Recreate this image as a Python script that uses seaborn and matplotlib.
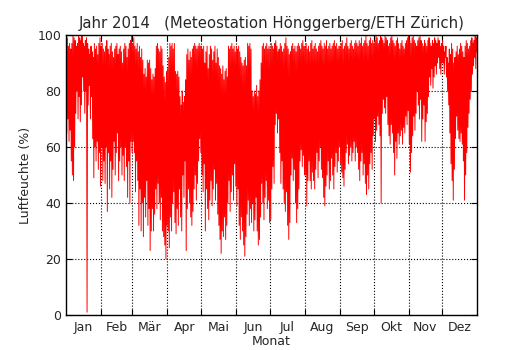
import numpy as np
import pandas as pd
import matplotlib
matplotlib.use("Agg")
import matplotlib.pyplot as plt
import seaborn as sns

# ---- data (daily min / max relative humidity, %) ----
month_labels = ["Jan", "Feb", "Mär", "Apr", "Mai", "Jun",
                "Jul", "Aug", "Sep", "Okt", "Nov", "Dez"]
month_days = [31, 28, 31, 30, 31, 30, 31, 31, 30, 31, 30, 31]

hum_min = [
    # Jan
    65, 70, 62, 66, 55, 50, 48, 60, 72, 80, 70, 78, 69, 75, 85, 80, 72, 80, 1, 75, 82, 70, 78, 63, 49, 60, 55, 62, 52, 58, 46,
    # Feb
    60, 48, 55, 47, 60, 37, 58, 45, 55, 42, 52, 62, 50, 58, 65, 48, 55, 60, 50, 57, 48, 60, 53, 42, 55, 40, 62, 58,
    # Mar
    62, 58, 44, 55, 48, 32, 45, 30, 40, 28, 42, 35, 48, 32, 38, 23, 30, 38, 30, 36, 45, 38, 47, 40, 34, 42, 30, 28, 25, 20, 32,
    # Apr
    30, 24, 35, 30, 40, 44, 33, 29, 38, 32, 45, 35, 30, 50, 42, 55, 23, 38, 45, 40, 35, 32, 37, 45, 50, 41, 47, 55, 63, 58,
    # Mai
    50, 44, 54, 30, 45, 38, 34, 41, 48, 39, 45, 52, 41, 47, 36, 32, 27, 22, 30, 28, 35, 27, 32, 40, 48, 37, 44, 50, 41, 54, 46,
    # Jun
    39, 45, 32, 27, 35, 30, 25, 21, 28, 36, 41, 32, 38, 33, 40, 30, 34, 42, 30, 25, 27, 35, 47, 40, 34, 42, 48, 38, 41, 33,
    # Jul
    34, 45, 53, 47, 68, 72, 65, 70, 58, 47, 55, 45, 40, 37, 44, 32, 27, 33, 50, 56, 48, 52, 40, 33, 38, 45, 55, 59, 53, 57, 50,
    # Aug
    50, 39, 48, 55, 48, 45, 51, 48, 45, 52, 58, 49, 55, 60, 52, 49, 42, 39, 46, 50, 55, 45, 48, 56, 50, 45, 53, 58, 51, 55, 60,
    # Sep
    54, 51, 49, 46, 52, 58, 61, 54, 57, 60, 55, 58, 62, 55, 60, 58, 52, 48, 55, 58, 50, 54, 47, 43, 50, 45, 54, 58, 52, 64,
    # Okt
    70, 62, 66, 71, 68, 64, 40, 72, 77, 74, 72, 78, 68, 64, 61, 68, 65, 58, 50, 62, 56, 65, 61, 64, 66, 61, 67, 65, 71, 68, 73,
    # Nov
    61, 51, 58, 64, 71, 66, 72, 80, 75, 70, 77, 62, 70, 75, 62, 69, 72, 78, 85, 82, 88, 81, 85, 89, 86, 90, 92, 88, 86, 90,
    # Dez
    90, 86, 92, 85, 80, 75, 65, 54, 48, 41, 52, 63, 71, 66, 63, 62, 65, 61, 55, 41, 50, 58, 67, 72, 77, 80, 86, 89, 92, 88, 94,
]

hum_max = [
    # Jan
    98, 99, 96, 97, 95, 97, 100, 99, 98, 96, 97, 100, 99, 98, 100, 97, 96, 98, 99, 97, 95, 93, 96, 94, 92, 97, 95, 96, 93, 97, 99,
    # Feb
    96, 97, 95, 94, 96, 98, 95, 93, 96, 97, 94, 92, 95, 96, 97, 93, 95, 96, 94, 90, 95, 97, 96, 92, 95, 97, 98, 100,
    # Mar
    97, 99, 96, 95, 97, 94, 96, 92, 95, 91, 86, 88, 85, 91, 90, 91, 88, 84, 86, 85, 88, 96, 97, 95, 94, 96, 95, 89, 85, 83, 87,
    # Apr
    88, 92, 97, 96, 97, 95, 97, 87, 86, 87, 85, 78, 75, 80, 76, 78, 84, 93, 95, 91, 94, 92, 95, 96, 97, 96, 95, 96, 97, 96,
    # Mai
    96, 95, 96, 90, 94, 96, 88, 93, 96, 95, 91, 94, 96, 90, 95, 92, 89, 88, 86, 89, 84, 87, 88, 85, 96, 95, 96, 97, 95, 96, 94,
    # Jun
    96, 95, 96, 94, 92, 90, 89, 91, 92, 89, 97, 96, 97, 95, 80, 78, 80, 79, 82, 78, 80, 84, 90, 96, 97, 95, 96, 97, 95, 96,
    # Jul
    95, 97, 96, 95, 97, 98, 96, 94, 95, 97, 96, 94, 95, 97, 99, 96, 95, 93, 94, 96, 97, 95, 96, 94, 96, 97, 96, 95, 97, 98, 96,
    # Aug
    96, 97, 95, 96, 94, 97, 98, 95, 96, 97, 95, 94, 96, 97, 98, 96, 95, 97, 96, 98, 95, 96, 97, 95, 96, 97, 98, 96, 97, 95, 96,
    # Sep
    96, 97, 98, 95, 96, 97, 99, 96, 95, 97, 98, 96, 95, 97, 98, 97, 96, 98, 97, 99, 96, 97, 98, 100, 97, 96, 98, 99, 97, 98,
    # Okt
    97, 98, 100, 99, 97, 98, 100, 99, 98, 97, 100, 99, 98, 96, 97, 99, 100, 98, 97, 96, 98, 99, 97, 95, 97, 98, 96, 95, 97, 98, 99,
    # Nov
    100, 98, 97, 99, 100, 98, 97, 96, 98, 99, 100, 98, 97, 96, 98, 97, 96, 98, 99, 97, 96, 98, 97, 99, 98, 97, 99, 98, 96, 97,
    # Dez
    98, 96, 94, 96, 92, 90, 95, 93, 97, 95, 90, 92, 94, 96, 93, 95, 97, 96, 94, 92, 96, 98, 97, 95, 96, 98, 99, 97, 98, 100, 99,
]

# ---- build series: each day goes max (night) -> min (afternoon) ----
n = min(len(hum_min), len(hum_max))
t, v = [], []
for d in range(n):
    t += [d + 0.2, d + 0.7]
    v += [hum_max[d], hum_min[d]]
df = pd.DataFrame({"tag": t, "feuchte": v})

sns.set_style("white")
plt.rcParams["font.family"] = ["DejaVu Sans"]

fig = plt.figure(figsize=(5.3, 3.5), dpi=100)
ax = fig.add_axes([0.1245, 0.1, 0.776, 0.8])

sns.lineplot(data=df, x="tag", y="feuchte", color="#ff0000",
             linewidth=0.7, sort=False, estimator=None, ax=ax)

total = sum(month_days)
bounds = np.cumsum([0] + month_days)
mids = (bounds[:-1] + bounds[1:]) / 2.0

ax.set_xlim(0, total)
ax.set_ylim(0, 100)
ax.set_xticks(bounds[1:-1])
ax.set_xticklabels([])
ax.set_xticks(mids, minor=True)
ax.set_xticklabels(month_labels, minor=True)
ax.set_yticks([0, 20, 40, 60, 80, 100])
ax.set_yticklabels(["0", "20", "40", "60", "80", "100"])

ax.tick_params(axis="x", which="major", direction="in", length=4, width=0.8,
               top=True, bottom=True, color="black")
ax.tick_params(axis="x", which="minor", length=0, labelsize=9, pad=4)
ax.tick_params(axis="y", which="major", direction="in", length=4, width=0.8,
               left=True, right=True, labelsize=9, color="black")

ax.grid(True, which="major", linestyle=":", color="black", linewidth=0.8)
for s in ax.spines.values():
    s.set_visible(True)
    s.set_color("black")
    s.set_linewidth(1.0)

ax.set_xlabel("Monat", fontsize=9, labelpad=1)
ax.set_ylabel("Luftfeuchte (%)", fontsize=9)
ax.set_title("Jahr 2014   (Meteostation Hönggerberg/ETH Zürich)", fontsize=10.75, pad=5)

fig.savefig("out.png", dpi=100)
